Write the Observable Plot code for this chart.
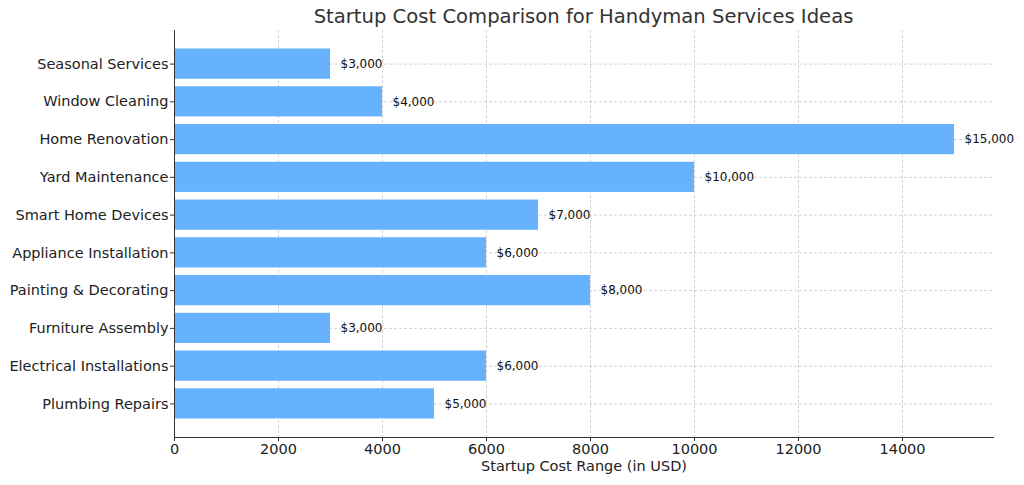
<!DOCTYPE html>
<html>
<head>
<meta charset="utf-8">
<script src="https://cdn.jsdelivr.net/npm/d3@7"></script>
<script src="https://cdn.jsdelivr.net/npm/@observablehq/plot@0.6"></script>
<style>
  body { margin: 0; background: #fff; font-family: "DejaVu Sans", sans-serif; }
  #wrap { position: relative; width: 1024px; height: 485px; }
  #title { position: absolute; top: 5px; left: 174px; width: 819px; text-align: center;
           font-size: 19.6px; color: #333; font-family: "DejaVu Sans", sans-serif; }
</style>
</head>
<body>
<div id="wrap">
  <div id="title">Startup Cost Comparison for Handyman Services Ideas</div>
  <div id="chart"></div>
</div>
<script>
const categories = [
  "Seasonal Services", "Window Cleaning", "Home Renovation", "Yard Maintenance",
  "Smart Home Devices", "Appliance Installation", "Painting & Decorating",
  "Furniture Assembly", "Electrical Installations", "Plumbing Repairs"
];
const costs = [3000, 4000, 15000, 10000, 7000, 6000, 8000, 3000, 6000, 5000];
const xTicks = [0, 2000, 4000, 6000, 8000, 10000, 12000, 14000];

const data = categories.map((c, i) => ({ category: c, cost: costs[i] }));
const fmt = d => "$" + d3.format(",")(d);

const chart = Plot.plot({
  width: 1024,
  height: 485,
  marginLeft: 174,
  marginRight: 31,
  marginTop: 30,
  marginBottom: 48,
  style: { fontFamily: "DejaVu Sans, sans-serif", color: "#222", background: "#fff" },
  x: { domain: [0, 15750], ticks: xTicks, tickFormat: d => String(d) },
  y: { domain: categories, paddingInner: 0.2, paddingOuter: 0.49, round: false },
  marks: [
    Plot.gridX(xTicks, { stroke: "#b0b0b0", strokeOpacity: 0.7, strokeDasharray: "3,2", strokeWidth: 0.8 }),
    Plot.gridY(categories, { stroke: "#b0b0b0", strokeOpacity: 0.7, strokeDasharray: "3,2", strokeWidth: 0.8 }),
    Plot.barX(data, { y: "category", x: "cost", fill: "#66b2ff" }),
    Plot.text(data, { y: "category", x: "cost", text: d => fmt(d.cost), textAnchor: "start", dx: 10, fontSize: 12, fill: "#111" }),
    Plot.axisY({ tickSize: 4, tickPadding: 2, fontSize: 14.5, label: null, stroke: "#333" }),
    Plot.axisX({ ticks: xTicks, tickFormat: d => String(d), tickSize: 4, tickPadding: 2, fontSize: 14.5, label: null, stroke: "#333" }),
    Plot.frame({ anchor: "bottom", stroke: "#333" }),
    Plot.frame({ anchor: "left", stroke: "#333" }),
    Plot.text(["Startup Cost Range (in USD)"], { frameAnchor: "bottom", dy: 33, fontSize: 14.5, fill: "#222" })
  ]
});
document.getElementById("chart").appendChild(chart);
</script>
</body>
</html>
